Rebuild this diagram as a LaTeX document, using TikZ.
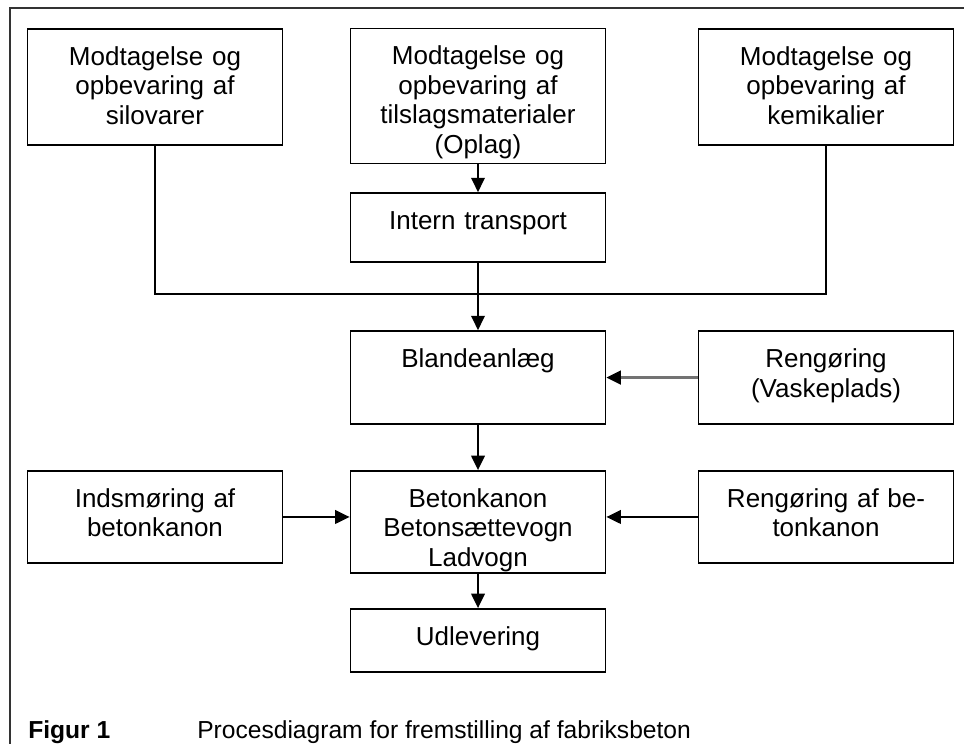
\documentclass[tikz,border=0pt]{standalone}
\usepackage{fontspec}
\setmainfont{Liberation Sans}
\usetikzlibrary{arrows.meta}

\tikzset{
  box/.style={rectangle,draw,line width=1.3pt,minimum width=6.375cm,text width=6.1cm,align=center,
    inner ysep=0pt,text height=9.1mm,text depth=#1,font=\fontsize{18.5}{21}\selectfont},
  arr/.style={-{Triangle[length=3.6mm,width=3.4mm]},line width=1.2pt},
  lin/.style={line width=1.2pt}
}

\begin{document}
\begin{tikzpicture}
\useasboundingbox (0,0) rectangle (24.1,18.6);
\draw [line width=1.3pt,black!80] (0.25,0) -- (0.25,18.4) -- (24.1,18.4);

\node (silo) at (3.875,16.425) [box=19.9mm] {Modtagelse og\\opbevaring af\\silovarer};
\node (tilslag) at (11.95,16.2) [box=24.65mm] {Modtagelse og\\opbevaring af\\tilslagsmaterialer\\(Oplag)};
\node (kemi) at (20.65,16.425) [box=19.9mm] {Modtagelse og\\opbevaring af\\kemikalier};
\node (intern) at (11.95,12.91) [box=8.15mm] {Intern transport};
\coordinate (junc) at (11.95,11.25);
\node (blande) at (11.95,9.16) [box=14.15mm] {Blandeanl\ae g};
\node (vask) at (20.65,9.16) [box=14.15mm] {Reng\o ring\\(Vaskeplads)};
\node (smoer) at (3.875,5.675) [box=13.9mm] {Indsm\o ring af\\betonkanon};
\node (kanon) at (11.95,5.55) [box=16.4mm] {Betonkanon\\Betons\ae ttevogn\\Ladvogn};
\node (renskanon) at (20.65,5.675) [box=13.9mm] {Reng\o ring af be-\\tonkanon};
\node (udlev) at (11.95,2.5875) [box=6.65mm] {Udlevering};

\node (fig) at (0.7,0.3) [anchor=west,inner sep=0pt,font=\fontsize{17.5}{20}\selectfont\bfseries] {Figur 1};
\node (figtxt) at (4.925,0.3) [anchor=west,inner sep=0pt,font=\fontsize{17.5}{20}\selectfont] {Procesdiagram for fremstilling af fabriksbeton};

\draw [arr] (tilslag) -- (intern);
\draw [lin] (silo.south) |- (junc) -| (kemi.south);
\draw [arr] (intern) -- (blande);
\draw [-{Triangle[length=3.6mm,width=3.4mm,color=black]},line width=1.8pt,black!55] (vask) -- (blande);
\draw [arr] (blande) -- (kanon);
\draw [arr] (smoer.east) -- (smoer.east -| kanon.west);
\draw [arr] (renskanon.west) -- (renskanon.west -| kanon.east);
\draw [arr] (kanon) -- (udlev);
\end{tikzpicture}
\end{document}
